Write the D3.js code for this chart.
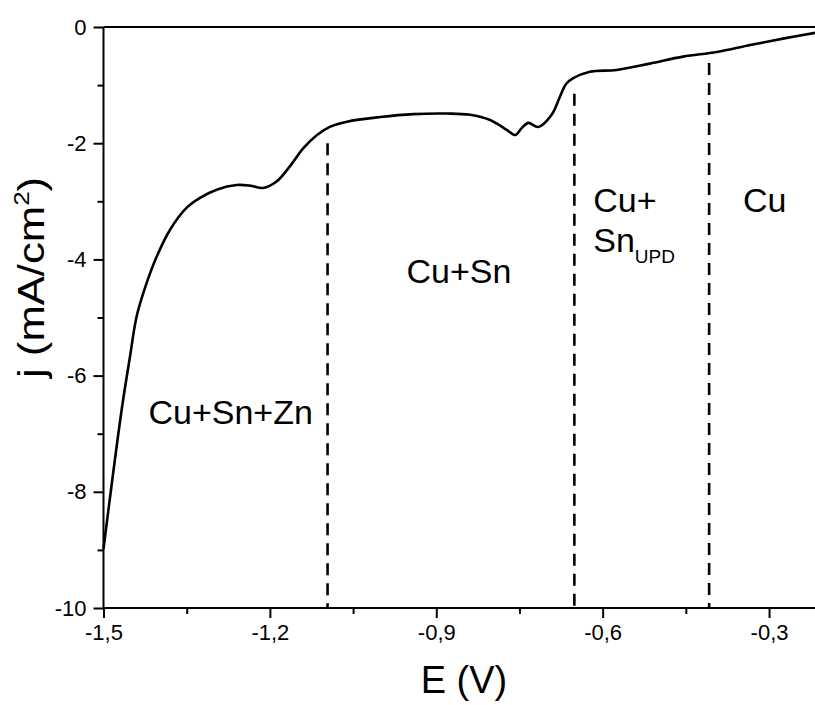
<!DOCTYPE html>
<html>
<head>
<meta charset="utf-8">
<script src="https://cdn.jsdelivr.net/npm/d3@7"></script>
<style>
  body { margin: 0; background: white; }
  svg { display: block; font-family: 'Liberation Sans', Arial, sans-serif; }
</style>
</head>
<body>
<div id="chart"></div>
<script>
// polarisation curve, E in V and j in mA/cm2
var potential = [-1.500, -1.467, -1.452, -1.440, -1.422, -1.404, -1.380, -1.350, -1.326, -1.296,
                 -1.260, -1.236, -1.212, -1.188, -1.164, -1.140, -1.115, -1.092, -1.061, -1.001,
                 -0.941, -0.881, -0.839, -0.803, -0.773, -0.758, -0.746, -0.734, -0.716, -0.692,
                 -0.677, -0.666, -0.653, -0.623, -0.575, -0.515, -0.455, -0.394, -0.334, -0.275,
                 -0.217];
var current = [-8.98, -6.57, -5.66, -4.97, -4.40, -3.95, -3.49, -3.11, -2.94, -2.80,
               -2.72, -2.73, -2.77, -2.66, -2.40, -2.09, -1.86, -1.72, -1.63, -1.55,
               -1.50, -1.49, -1.51, -1.60, -1.77, -1.86, -1.74, -1.65, -1.72, -1.51,
               -1.20, -0.98, -0.88, -0.77, -0.74, -0.63, -0.51, -0.43, -0.31, -0.20,
               -0.10];

// dashed region boundaries
var boundaryE = [-1.096, -0.651, -0.408];
var boundaryTop = [-2.0, -1.15, -0.62];

var xTicks = [-1.5, -1.2, -0.9, -0.6, -0.3];
var xMinorTicks = [-1.35, -1.05, -0.75, -0.45];
var yTicks = [0, -2, -4, -6, -8, -10];
var yMinorTicks = [-1, -3, -5, -7, -9];

var margin = {top: 27, left: 103.5};
var width = 721;
var height = 581;

var svg = d3.select('#chart')
  .append('svg')
  .attr('width', 815)
  .attr('height', 705)
  .append('g')
  .attr('transform', 'translate(' + margin.left + ',' + margin.top + ')');

var x = d3.scaleLinear().domain([-1.5, -0.2]).range([0, width]);
var y = d3.scaleLinear().domain([-10, 0]).range([height, 0]);

var fmt = (d) => (d === 0 ? '0' : d3.format('.1f')(d).replace('.', ',').replace('\u2212', '-'));
var fmtY = (d) => String(d);

// curve
var line = d3.line()
  .x((d, i) => x(potential[i]))
  .y((d, i) => y(current[i]))
  .curve(d3.curveCatmullRom.alpha(0.5));

svg.append('path')
  .datum(current)
  .attr('d', line)
  .style('fill', 'none')
  .style('stroke', 'black')
  .style('stroke-width', 2.6)
  .style('stroke-linejoin', 'round');

// dashed boundaries
svg.selectAll('.boundary')
  .data(boundaryE)
  .enter()
  .append('line')
  .attr('class', 'boundary')
  .attr('x1', (d) => x(d))
  .attr('x2', (d) => x(d))
  .attr('y1', (d, i) => y(boundaryTop[i]))
  .attr('y2', y(-10))
  .style('stroke', 'black')
  .style('stroke-width', 2.6)
  .style('stroke-dasharray', '12,8');

// axes
var tickStyle = function(g) {
  g.select('.domain').remove();
  g.selectAll('line').style('stroke', 'black').style('stroke-width', 2);
  g.selectAll('text').style('font-size', '22px').style('fill', 'black');
};

svg.append('g')
  .attr('transform', 'translate(0,' + height + ')')
  .call(d3.axisBottom(x).tickValues(xTicks).tickSize(10).tickPadding(6).tickFormat(fmt))
  .call(tickStyle);

svg.append('g')
  .attr('transform', 'translate(0,' + height + ')')
  .call(d3.axisBottom(x).tickValues(xMinorTicks).tickSize(6).tickFormat(''))
  .call(tickStyle);

svg.append('g')
  .call(d3.axisLeft(y).tickValues(yTicks).tickSize(10).tickPadding(7).tickFormat((d) => fmtY(d)))
  .call(tickStyle);

svg.append('g')
  .call(d3.axisLeft(y).tickValues(yMinorTicks).tickSize(6).tickFormat(''))
  .call(tickStyle);

// frame lines: left, bottom, top
svg.append('line').attr('x1', 0).attr('x2', 0).attr('y1', 0).attr('y2', height)
  .style('stroke', 'black').style('stroke-width', 2);
svg.append('line').attr('x1', 0).attr('x2', width).attr('y1', height).attr('y2', height)
  .style('stroke', 'black').style('stroke-width', 2);
svg.append('line').attr('x1', 0).attr('x2', width).attr('y1', 0).attr('y2', 0)
  .style('stroke', 'black').style('stroke-width', 2);

// axis titles
svg.append('text')
  .attr('x', x(-0.85))
  .attr('y', height + 85)
  .attr('text-anchor', 'middle')
  .style('font-size', '38px')
  .text('E (V)');

var yTitle = svg.append('text')
  .attr('transform', 'translate(' + (-60) + ',' + y(-4.31) + ') rotate(-90) scale(1.18,1)')
  .attr('text-anchor', 'middle')
  .style('font-size', '37px');
yTitle.append('tspan').text('j (mA/cm');
yTitle.append('tspan').attr('dy', -15).style('font-size', '22px').text('2');
yTitle.append('tspan').attr('dy', 15).text(')');

// region labels
var labelSize = '34px';
svg.append('text').attr('x', x(-1.419)).attr('y', y(-6.83))
  .style('font-size', labelSize).text('Cu+Sn+Zn');
svg.append('text').attr('x', x(-0.859)).attr('y', y(-4.40)).attr('text-anchor', 'middle')
  .style('font-size', labelSize).text('Cu+Sn');
svg.append('text').attr('x', x(-0.617)).attr('y', y(-3.19))
  .style('font-size', labelSize).text('Cu+');
var sn = svg.append('text').attr('x', x(-0.617)).attr('y', y(-3.88))
  .style('font-size', labelSize);
sn.append('tspan').text('Sn');
sn.append('tspan').attr('dy', 11).style('font-size', '19px').text('UPD');
svg.append('text').attr('x', x(-0.347)).attr('y', y(-3.19))
  .style('font-size', labelSize).text('Cu');
</script>
</body>
</html>
